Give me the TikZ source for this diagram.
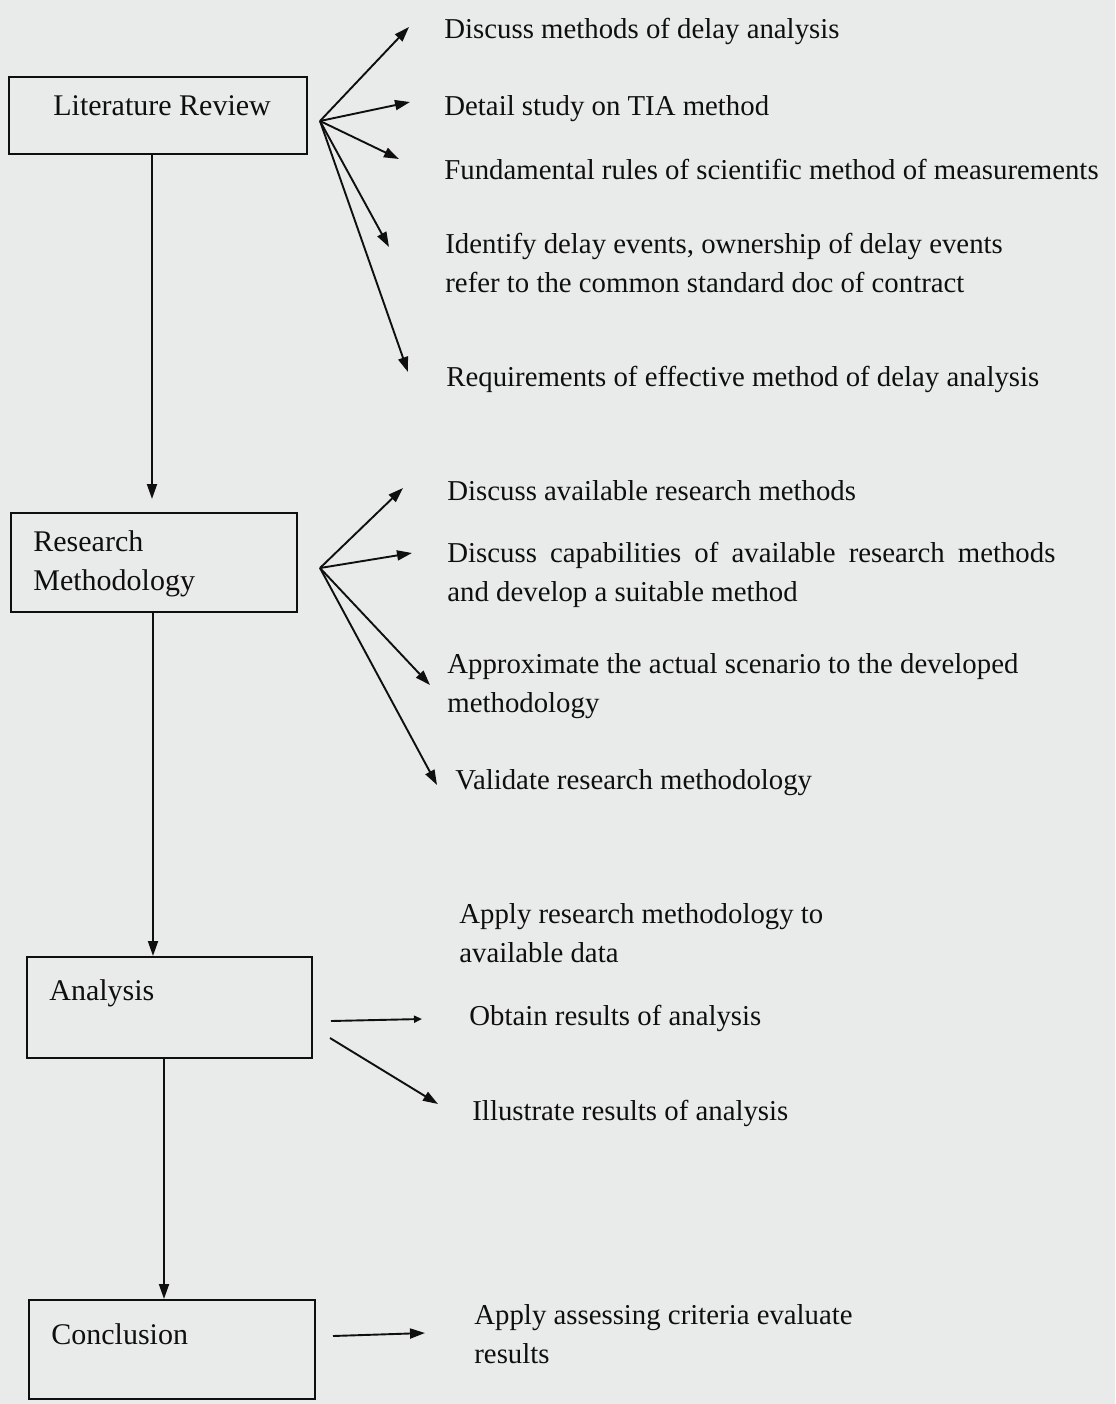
\documentclass[tikz,border=0pt]{standalone}
\usepackage{fontspec}
\setmainfont{Liberation Serif}
\usetikzlibrary{arrows.meta,fit}
\definecolor{paper}{RGB}{233,235,235}
\definecolor{ink}{RGB}{15,15,15}
\begin{document}
\begin{tikzpicture}[x=0.5pt,y=-0.5pt,
  stage/.style={draw=ink,line width=1pt,inner sep=0pt},
  stagelabel/.style={text=ink,inner sep=0pt,anchor=base west,align=left,
    font=\fontsize{15}{19.5}\selectfont},
  item/.style={text=ink,inner sep=0pt,anchor=base west,align=left,
    font=\fontsize{14.4}{19.3}\selectfont},
  arr/.style={draw=ink,line width=0.95pt,-{Triangle[length=7.5pt,width=5pt]}},
  thinarr/.style={draw=ink,line width=0.95pt,-{Triangle[length=4pt,width=3.5pt]}}]
% page
\fill[paper] (0,0) rectangle (1115,1404);
\useasboundingbox (0,0) rectangle (1115,1404);

% stage boxes
\node[stage,fit={(9,77)(307,154)}] (lr) {};
\node[stage,fit={(11,513)(297,612)}] (rm) {};
\node[stage,fit={(27,957)(312,1058)}] (an) {};
\node[stage,fit={(29,1300)(315,1399)}] (co) {};

% labels are placed by the baseline of their last line
\node[stagelabel] (lrtxt) at (53,115) {Literature Review};
\node[stagelabel] (rmtxt) at (33,590) {Research\\Methodology};
\node[stagelabel] (antxt) at (49,1000) {Analysis};
\node[stagelabel] (cotxt) at (51,1344) {Conclusion};

% main flow
\coordinate (v1) at (152,0);
\coordinate (v2) at (153,0);
\coordinate (v3) at (164,0);
\draw[arr,shorten >=6.5pt] (lr.south -| v1) -- (rm.north -| v1);
\draw[arr] (rm.south -| v2) -- (an.north -| v2);
\draw[arr] (an.south -| v3) -- (co.north -| v3);

% literature review topics
\node[item] (t1) at (444,38) {Discuss methods of delay analysis};
\node[item] (t2) at (444,115) {Detail study on TIA method};
\node[item] (t3) at (444,179) {Fundamental rules of scientific method of measurements};
\node[item] (t4) at (445,292) {Identify delay events, ownership of delay events\\refer to the common standard doc of contract};
\node[item] (t5) at (446,386) {Requirements of effective method of delay analysis};

\coordinate (f1) at (320,121);
\coordinate (a1) at (409,27);
\coordinate (a2) at (410,102);
\coordinate (a3) at (399,159);
\coordinate (a4) at (389,247);
\coordinate (a5) at (408,372);
\foreach \t in {a1,a2,a3,a4,a5} \draw[arr] (f1) -- (\t);

% research methodology topics
\node[item] (t6) at (447,500) {Discuss available research methods};
\node[item] (t7) at (447,601) {\makebox[304pt][s]{Discuss capabilities of available research methods}\\and develop a suitable method};
\node[item] (t8) at (447,712) {Approximate the actual scenario to the developed\\methodology};
\node[item] (t9) at (455,789) {Validate research methodology};

\coordinate (f2) at (320,568);
\coordinate (b1) at (403,488);
\coordinate (b2) at (412,553);
\coordinate (b3) at (430,685);
\coordinate (b4) at (437,785);
\foreach \t in {b1,b2,b3,b4} \draw[arr] (f2) -- (\t);

% analysis topics
\node[item] (t10) at (459,962) {Apply research methodology to\\available data};
\node[item] (t11) at (469,1025) {Obtain results of analysis};
\node[item] (t12) at (472,1120) {Illustrate results of analysis};

\coordinate (c1s) at (331,1021);
\coordinate (c1e) at (422,1019);
\coordinate (c2s) at (330,1038);
\coordinate (c2e) at (438,1104);
\draw[thinarr] (c1s) -- (c1e);
\draw[arr] (c2s) -- (c2e);

% conclusion topic
\node[item] (t13) at (474,1363) {Apply assessing criteria evaluate\\results};
\coordinate (d1s) at (333,1336);
\coordinate (d1e) at (425,1333);
\draw[arr] (d1s) -- (d1e);
\end{tikzpicture}
\end{document}
